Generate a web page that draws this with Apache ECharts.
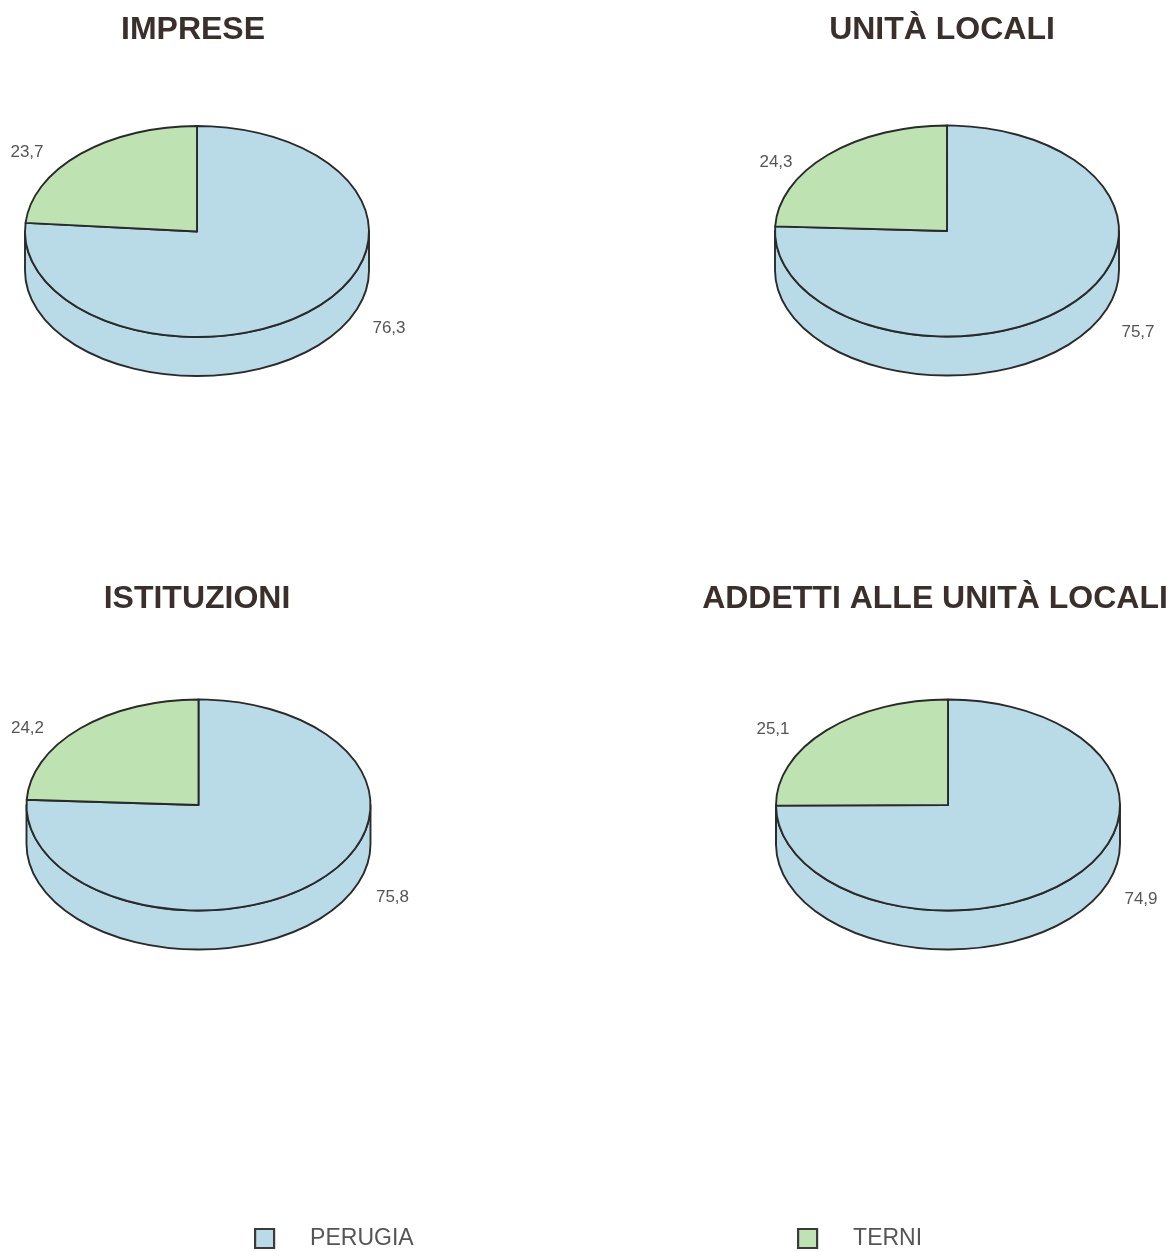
<!DOCTYPE html>
<html><head><meta charset="utf-8">
<script src="https://cdn.jsdelivr.net/npm/echarts@6/dist/echarts.min.js"></script>
<style>html,body{margin:0;padding:0;background:#fff}#c{width:1174px;height:1251px}</style>
</head><body><div id="c"></div>
<script>
// ---- data ----
const pieTitles = ['IMPRESE', 'UNITÀ LOCALI', 'ISTITUZIONI', 'ADDETTI ALLE UNITÀ LOCALI'];
const perugiaValues = [76.3, 75.7, 75.8, 74.9];
const terniValues = [23.7, 24.3, 24.2, 25.1];
const seriesNames = ['PERUGIA', 'TERNI'];

// ---- layout / style ----
const pieCenters = [[197, 231.5], [947, 231], [198.5, 805], [948, 805]];
const titleCenters = [[193, 30], [942, 30], [197, 599], [935, 599]];
const terniLabelOff = [[-170, -79], [-171, -69], [-171, -77], [-175, -76]];
const perugiaLabelOff = [[192, 97], [191, 101], [194, 92], [193, 94]];
const RX = 172, RY = 105.5, DEPTH = 39;
const COLORS = { PERUGIA: '#b9dbe8', TERNI: '#bfe2b3' };
const STROKE = '#2a2a2a';
const FONT = '"Liberation Sans", Arial, Helvetica, sans-serif';

function pt(cx, cy, deg, dy) {
  const r = deg * Math.PI / 180;
  return [cx + RX * Math.cos(r), cy - RY * Math.sin(r) + (dy || 0)];
}
function topPath(cx, cy, a0, a1) {
  const p0 = pt(cx, cy, a0), p1 = pt(cx, cy, a1);
  const large = (a1 - a0) > 180 ? 1 : 0;
  return `M${cx},${cy}L${p0[0]},${p0[1]}A${RX},${RY},0,${large},0,${p1[0]},${p1[1]}Z`;
}
function sidePaths(cx, cy, a0, a1) {
  const out = [];
  [[180, 360], [540, 720]].forEach(([f0, f1]) => {
    const s = Math.max(a0, f0), e = Math.min(a1, f1);
    if (e - s > 0.01) {
      const ts = pt(cx, cy, s), te = pt(cx, cy, e), bs = pt(cx, cy, s, DEPTH), be = pt(cx, cy, e, DEPTH);
      out.push(`M${ts[0]},${ts[1]}L${bs[0]},${bs[1]}A${RX},${RY},0,0,0,${be[0]},${be[1]}L${te[0]},${te[1]}A${RX},${RY},0,0,1,${ts[0]},${ts[1]}Z`);
    }
  });
  return out;
}
function fmt(v) { return v.toFixed(1).replace('.', ','); }

function makeSeries(name) {
  const isTerni = name === 'TERNI';
  return {
    type: 'custom', name: name, coordinateSystem: 'none', silent: true,
    itemStyle: { color: COLORS[name] },
    data: pieTitles.map((_, i) => [i, perugiaValues[i], terniValues[i]]),
    renderItem: function (params, api) {
      const i = api.value(0), p = api.value(1), t = api.value(2);
      const [cx, cy] = pieCenters[i];
      const ta = t / (p + t) * 360;
      const a0 = isTerni ? 90 : 90 + ta;
      const a1 = isTerni ? 90 + ta : 450;
      const st = { fill: COLORS[name], stroke: STROKE, lineWidth: 1.9, lineJoin: 'round' };
      const children = [];
      sidePaths(cx, cy, a0, a1).forEach(d => children.push({ type: 'path', shape: { pathData: d }, style: st }));
      children.push({ type: 'path', shape: { pathData: topPath(cx, cy, a0, a1) }, style: st });
      const off = isTerni ? terniLabelOff[i] : perugiaLabelOff[i];
      children.push({
        type: 'text', x: cx + off[0], y: cy + off[1],
        style: { text: fmt(isTerni ? t : p), fill: '#555', font: '17px ' + FONT, align: 'center', verticalAlign: 'middle' }
      });
      return { type: 'group', children: children };
    }
  };
}

const chart = echarts.init(document.getElementById('c'), null, { renderer: 'canvas' });
chart.setOption({
  backgroundColor: '#ffffff',
  animation: false,
  title: pieTitles.map((t, i) => ({
    text: t, left: titleCenters[i][0], top: titleCenters[i][1] - 16, textAlign: 'center', padding: 0,
    textStyle: { fontSize: 32, fontWeight: 'bold', color: '#3a2f2a', fontFamily: FONT }
  })),
  legend: [
    { data: ['PERUGIA'], left: 254, top: 1227 },
    { data: ['TERNI'], left: 797, top: 1227 }
  ].map(l => Object.assign(l, {
    padding: 0, itemWidth: 19, itemHeight: 19, icon: 'rect', selectedMode: false,
    itemStyle: { borderColor: '#3a3a3a', borderWidth: 2.2 },
    textStyle: { fontSize: 23, color: '#555', fontFamily: FONT, padding: [0, 0, 0, 31] }
  })),
  series: seriesNames.map(makeSeries)
});
</script>
</body></html>
